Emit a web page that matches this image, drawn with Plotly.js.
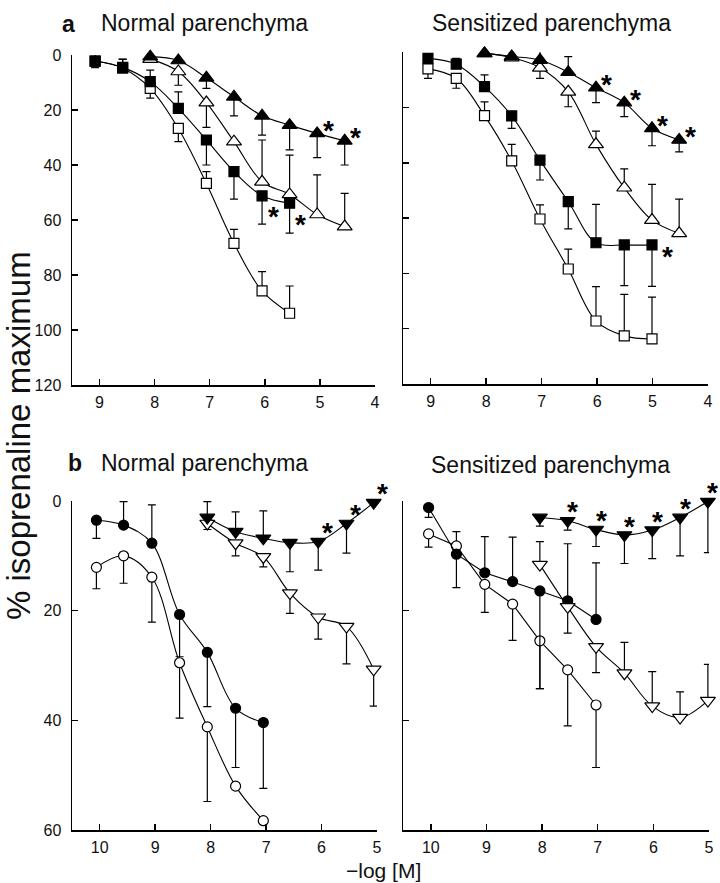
<!DOCTYPE html>
<html>
<head>
<meta charset="utf-8">
<script src="https://cdn.plot.ly/plotly-3.0.1.min.js"></script>
<style>html,body{margin:0;padding:0;background:#fff;}#chart{width:720px;height:883px;}</style>
</head>
<body>
<div id="chart"></div>
<script>
// ---------- Panel a : Normal parenchyma ----------
const aN_x = [9.08, 8.58, 8.08, 7.57, 7.06, 6.56, 6.05, 5.55, 5.05, 4.55];
const aN_openSq_y    = [2.2, 4.8, 12.1, 26.7, 46.7, 68.5, 85.8, 93.9];
const aN_openSq_up   = [2.4, 3.2, 0, 0, 4.3, 5.1, 7.0, 9.9];
const aN_openSq_down = [2.4, 0, 3.6, 4.8, 0, 0, 0, 0];
const aN_fillSq_y    = [2.2, 4.5, 9.7, 19.4, 30.9, 42.4, 51.2, 53.9];
const aN_fillSq_up   = [0, 3.0, 4.2, 6.0, 0, 0, 0, 0];
const aN_fillSq_down = [0, 0, 0, 0, 9.1, 10.0, 10.3, 10.9];
const aN_openTri_y    = [1.5, 6.0, 17.3, 31.5, 46.1, 50.7, 58.0, 62.4];
const aN_openTri_up   = [0, 0, 0, 0, 15.2, 14.3, 14.4, 12.1];
const aN_openTri_down = [0, 5.0, 9.0, 0, 0, 0, 0, 0];
const aN_fillTri_y    = [0.6, 2.0, 8.3, 15.2, 22.1, 25.5, 28.5, 31.2];
const aN_fillTri_up   = [2.4, 2.5, 0, 0, 0, 0, 0, 0];
const aN_fillTri_down = [0, 0, 3.8, 6.9, 7.0, 9.0, 8.8, 8.8];

// ---------- Panel a : Sensitized parenchyma ----------
const aS_x = [9.05, 8.54, 8.03, 7.54, 7.03, 6.52, 6.02, 5.51, 5.01, 4.52];
const aS_fillSq_y    = [2.2, 4.3, 12.4, 23.0, 39.0, 54.0, 68.9, 69.7, 69.7];
const aS_fillSq_up   = [0, 2.1, 4.2, 0, 0, 0, 13.9, 0, 0];
const aS_fillSq_down = [0, 0, 0, 4.5, 7.2, 9.9, 0, 14.7, 15.0];
const aS_openSq_y    = [6.0, 9.4, 22.9, 39.3, 60.3, 78.4, 97.2, 102.6, 103.7];
const aS_openSq_up   = [0, 0, 5.0, 6.0, 5.1, 7.2, 12.4, 15.0, 15.1];
const aS_openSq_down = [3.4, 3.6, 0, 0, 0, 0, 0, 0, 0];
const aS_openTri_y    = [0.4, 1.9, 5.6, 14.3, 33.3, 49.0, 60.7, 65.5];
const aS_openTri_up   = [0, 0, 0, 0, 4.8, 6.8, 12.9, 12.4];
const aS_openTri_down = [0, 0, 3.8, 5.4, 0, 0, 0, 0];
const aS_fillTri_y    = [0.4, 1.5, 2.8, 7.2, 12.8, 18.2, 27.5, 31.7];
const aS_fillTri_up   = [1.5, 1.7, 3.6, 5.6, 0, 0, 0, 0];
const aS_fillTri_down = [0, 0, 0, 0, 5.4, 5.1, 6.3, 4.3];

// ---------- Panel b : Normal parenchyma ----------
const bN_x = [10.06, 9.57, 9.06, 8.56, 8.06, 7.55, 7.05, 6.57, 6.06, 5.55, 5.06];
const bN_fillCirc_y    = [3.5, 4.4, 7.7, 20.7, 27.6, 37.8, 40.4];
const bN_fillCirc_up   = [0, 4.3, 7.0, 0, 0, 0, 0];
const bN_fillCirc_down = [3.3, 0, 0, 7.7, 9.9, 10.8, 12.0];
const bN_openCirc_y    = [12.1, 10.0, 13.9, 29.5, 41.2, 52.0, 58.3];
const bN_openCirc_up   = [0, 0, 0, 0, 0, 0, 0];
const bN_openCirc_down = [3.9, 5.0, 8.2, 10.1, 13.6, 0, 0];
const bN_fillDn_y    = [3.0, 5.6, 6.8, 7.6, 7.4, 4.1, 0.3];
const bN_fillDn_up   = [2.9, 3.6, 5.0, 0, 0, 0, 0];
const bN_fillDn_down = [0, 0, 0, 5.3, 5.2, 5.4, 0];
const bN_openDn_y    = [4.1, 7.7, 10.2, 16.8, 21.2, 22.9, 30.7];
const bN_openDn_up   = [0, 0, 0, 0, 0, 0, 0];
const bN_openDn_down = [1.1, 2.3, 1.8, 3.7, 4.0, 6.8, 6.7];

// ---------- Panel b : Sensitized parenchyma ----------
const bS_x = [10.04, 9.54, 9.03, 8.53, 8.04, 7.54, 7.03, 6.52, 6.02, 5.52, 5.02];
const bS_fillCirc_y    = [1.2, 9.7, 13.1, 14.7, 16.4, 18.2, 21.6];
const bS_fillCirc_up   = [0, 0, 6.6, 8.1, 0, 10.4, 10.3];
const bS_fillCirc_down = [1.8, 6.1, 0, 0, 17.8, 0, 0];
const bS_openCirc_y    = [6.0, 8.2, 15.2, 18.8, 25.5, 30.8, 37.2];
const bS_openCirc_up   = [0, 2.6, 0, 0, 0, 0, 0];
const bS_openCirc_down = [2.4, 0, 5.1, 6.6, 8.7, 10.2, 11.4];
const bS_fillDn_y    = [3.0, 3.6, 5.2, 6.2, 5.3, 3.0, 0.1];
const bS_fillDn_up   = [0, 0, 0, 0, 0, 0, 0];
const bS_fillDn_down = [1.6, 1.7, 3.1, 5.2, 5.2, 7.0, 9.3];
const bS_openDn_y    = [11.6, 19.3, 26.6, 31.4, 37.4, 39.5, 36.4];
const bS_openDn_up   = [4.2, 0, 0, 5.6, 6.3, 4.7, 6.6];
const bS_openDn_down = [0, 4.8, 4.7, 0, 0, 0, 0];

// ---------- significance asterisks (indices into the x arrays) ----------
const aN_star_fillTri = [8, 9];
const aN_star_fillSq  = [6, 7];
const aS_star_fillTri = [6, 7, 8, 9];
const aS_star_fillSq  = [8];
const bN_star_fillDn  = [8, 9, 10];
const bS_star_fillDn  = [5, 6, 7, 8, 9, 10];

// ---------- labels ----------
const xTicksTop = [9, 8, 7, 6, 5, 4];
const xTicksBottom = [10, 9, 8, 7, 6, 5];
const yTicksTop = [0, 20, 40, 60, 80, 100, 120];
const yTicksBottom = [0, 20, 40, 60];
const panelLetters = ['a', 'b'];
const panelNames = ['Normal parenchyma', 'Sensitized parenchyma'];
const yTitle = '% isoprenaline maximum';
const xTitle = '\u2212log [M]';

// ---------- drawing ----------
const FONT = 'Liberation Sans, Arial, sans-serif';
const traces = [];
function series(xs, start, ys, up, down, symbol, fill, n, shape, size) {
  traces.push({
    type: 'scatter', mode: 'lines+markers',
    x: xs.slice(start, start + ys.length), y: ys,
    xaxis: 'x' + (n === 1 ? '' : n), yaxis: 'y' + (n === 1 ? '' : n),
    line: {color: '#000', width: 1.1, shape: shape, smoothing: 1},
    marker: {symbol: symbol, size: size, color: fill, line: {color: '#000', width: 1.2}},
    error_y: {type: 'data', symmetric: false, array: down, arrayminus: up,
              color: '#000', thickness: 1.2, width: 4},
    cliponaxis: false, hoverinfo: 'skip'
  });
}
// panel a normal (subplot 1)
series(aN_x, 0, aN_openSq_y, aN_openSq_up, aN_openSq_down, 'square', '#fff', 1, 'spline', 10);
series(aN_x, 0, aN_fillSq_y, aN_fillSq_up, aN_fillSq_down, 'square', '#000', 1, 'spline', 10);
series(aN_x, 2, aN_openTri_y, aN_openTri_up, aN_openTri_down, 'triangle-up', '#fff', 1, 'spline', 13);
series(aN_x, 2, aN_fillTri_y, aN_fillTri_up, aN_fillTri_down, 'triangle-up', '#000', 1, 'spline', 13);
// panel a sensitized (subplot 2)
series(aS_x, 0, aS_openSq_y, aS_openSq_up, aS_openSq_down, 'square', '#fff', 2, 'spline', 10);
series(aS_x, 0, aS_fillSq_y, aS_fillSq_up, aS_fillSq_down, 'square', '#000', 2, 'spline', 10);
series(aS_x, 2, aS_openTri_y, aS_openTri_up, aS_openTri_down, 'triangle-up', '#fff', 2, 'spline', 13);
series(aS_x, 2, aS_fillTri_y, aS_fillTri_up, aS_fillTri_down, 'triangle-up', '#000', 2, 'spline', 13);
// panel b normal (subplot 3)
series(bN_x, 0, bN_openCirc_y, bN_openCirc_up, bN_openCirc_down, 'circle', '#fff', 3, 'spline', 10);
series(bN_x, 0, bN_fillCirc_y, bN_fillCirc_up, bN_fillCirc_down, 'circle', '#000', 3, 'spline', 10);
series(bN_x, 4, bN_openDn_y, bN_openDn_up, bN_openDn_down, 'triangle-down', '#fff', 3, 'spline', 13);
series(bN_x, 4, bN_fillDn_y, bN_fillDn_up, bN_fillDn_down, 'triangle-down', '#000', 3, 'spline', 13);
// panel b sensitized (subplot 4)
series(bS_x, 0, bS_openCirc_y, bS_openCirc_up, bS_openCirc_down, 'circle', '#fff', 4, 'linear', 10);
series(bS_x, 0, bS_fillCirc_y, bS_fillCirc_up, bS_fillCirc_down, 'circle', '#000', 4, 'linear', 10);
series(bS_x, 4, bS_openDn_y, bS_openDn_up, bS_openDn_down, 'triangle-down', '#fff', 4, 'spline', 13);
series(bS_x, 4, bS_fillDn_y, bS_fillDn_up, bS_fillDn_down, 'triangle-down', '#000', 4, 'spline', 13);

const annotations = [];
function stars(xs, start, ys, idx, n, dx, dy) {
  idx.forEach(function (i) {
    annotations.push({
      x: xs[i], y: ys[i - start], xref: 'x' + (n === 1 ? '' : n), yref: 'y' + (n === 1 ? '' : n),
      text: '*', showarrow: false, xshift: dx, yshift: dy, borderpad: 0,
      font: {family: FONT, size: 28, color: '#000', weight: 'bold'}
    });
  });
}
stars(aN_x, 2, aN_fillTri_y, aN_star_fillTri, 1, 11, 3);
stars(aN_x, 0, aN_fillSq_y, aN_star_fillSq, 1, 11, -21);
stars(aS_x, 2, aS_fillTri_y, aS_star_fillTri, 2, 11, 3);
stars(aS_x, 0, aS_fillSq_y, aS_star_fillSq, 2, 16, -12);
stars(bN_x, 4, bN_fillDn_y, bN_star_fillDn, 3, 9, 9);
stars(bS_x, 4, bS_fillDn_y, bS_star_fillDn, 4, 5, 9);

function txt(x, y, text, size, opts) {
  annotations.push(Object.assign({
    x: x, y: y, xref: 'paper', yref: 'paper', text: text, showarrow: false,
    xanchor: 'left', yanchor: 'middle',
    font: {family: FONT, size: size, color: '#111'}
  }, opts || {}));
}
const W = 720, H = 883;
// panel letters
txt(60 / W, 1 - 24 / H, panelLetters[0], 23, {font: {family: FONT, size: 23, color: '#111', weight: 'bold'}});
txt(66 / W, 1 - 463 / H, panelLetters[1], 23, {font: {family: FONT, size: 23, color: '#111', weight: 'bold'}});
// panel names
txt(99 / W, 1 - 23 / H, panelNames[0], 23);
txt(430 / W, 1 - 23 / H, panelNames[1], 23);
txt(99 / W, 1 - 463 / H, panelNames[0], 23);
txt(429 / W, 1 - 465 / H, panelNames[1], 23);
// axis titles
txt(19 / W, 1 - 436 / H, yTitle, 33, {xanchor: 'center', textangle: -90});
txt(383 / W, 0, xTitle, 21, {xanchor: 'center', yanchor: 'bottom', borderpad: 0});

const axBase = {
  showline: true, linecolor: '#000', linewidth: 1.5, mirror: false,
  ticks: 'inside', ticklen: 6, tickwidth: 1.5, tickcolor: '#000',
  showgrid: false, zeroline: false, fixedrange: true,
  tickfont: {family: FONT, size: 16, color: '#111'}, ticklabelstandoff: 6
};
const xBase = Object.assign({}, axBase, {ticklabelstandoff: 2});
const layout = {
  width: W, height: H, margin: {l: 0, r: 0, t: 0, b: 0},
  paper_bgcolor: '#fff', plot_bgcolor: 'rgba(0,0,0,0)', showlegend: false,
  xaxis:  Object.assign({}, xBase, {domain: [72 / W, 375 / W], range: [9.5, 4], tickmode: 'array', tickvals: xTicksTop, anchor: 'y'}),
  yaxis:  Object.assign({}, axBase, {domain: [1 - 385 / H, 1 - 55 / H], range: [120, 0], tickmode: 'array', tickvals: yTicksTop, anchor: 'x'}),
  xaxis2: Object.assign({}, xBase, {domain: [403 / W, 708 / W], range: [9.5, 4], tickmode: 'array', tickvals: xTicksTop, anchor: 'y2'}),
  yaxis2: Object.assign({}, axBase, {domain: [1 - 384 / H, 1 - 52.3 / H], range: [120, 0], tickmode: 'array', tickvals: yTicksTop, showticklabels: false, anchor: 'x2'}),
  xaxis3: Object.assign({}, xBase, {domain: [72 / W, 377 / W], range: [10.5, 5], tickmode: 'array', tickvals: xTicksBottom, anchor: 'y3'}),
  yaxis3: Object.assign({}, axBase, {domain: [1 - 830 / H, 1 - 501 / H], range: [60, 0], tickmode: 'array', tickvals: yTicksBottom, anchor: 'x3'}),
  xaxis4: Object.assign({}, xBase, {domain: [403 / W, 709 / W], range: [10.5, 5], tickmode: 'array', tickvals: xTicksBottom, anchor: 'y4'}),
  yaxis4: Object.assign({}, axBase, {domain: [1 - 830 / H, 1 - 501 / H], range: [60, 0], tickmode: 'array', tickvals: yTicksBottom, showticklabels: false, anchor: 'x4'}),
  annotations: annotations
};
Plotly.newPlot('chart', traces, layout, {staticPlot: true, displayModeBar: false});
</script>
</body>
</html>
